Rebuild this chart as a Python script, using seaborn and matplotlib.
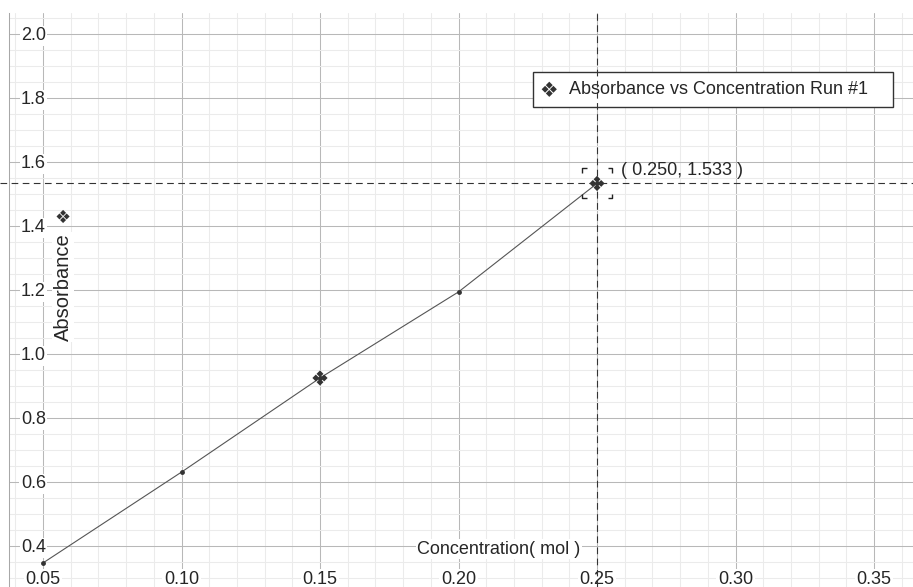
import numpy as np
import pandas as pd
import matplotlib
matplotlib.use("Agg")
import matplotlib.pyplot as plt
from matplotlib.path import Path
from matplotlib.ticker import MultipleLocator
import seaborn as sns

# data
conc = [0.05, 0.10, 0.15, 0.20, 0.25]
absorb = [0.347, 0.631, 0.925, 1.194, 1.533]
marked_conc = [0.15, 0.25]          # points drawn with the series symbol
cursor_x, cursor_y = 0.25, 1.533    # crosshair position
x_ticks = [0.05, 0.10, 0.15, 0.20, 0.25, 0.30, 0.35]
y_ticks = [0.4, 0.6, 0.8, 1.0, 1.2, 1.4, 1.6, 1.8, 2.0]
series_name = "Absorbance vs Concentration Run #1"
symbol = "\u2756"

df = pd.DataFrame({"Concentration": conc, "Absorbance": absorb})
marked = df[np.isin(np.round(df["Concentration"], 3), marked_conc)]

sns.set_style("white")
plt.rcParams["font.family"] = ["Liberation Sans", "DejaVu Sans"]
txt = "#262626"
fs = 13
white_box = dict(facecolor="white", edgecolor="none", pad=1)

W, H = 913, 587
fig = plt.figure(figsize=(W / 100, H / 100), dpi=100)
ax = fig.add_axes([9 / W, 0, 904 / W, 574 / H])

sns.lineplot(data=df, x="Concentration", y="Absorbance", ax=ax, color="#555555",
             lw=0.8, marker="o", markersize=3.5, markeredgewidth=0,
             markerfacecolor="#333333", zorder=4)
sns.scatterplot(data=marked, x="Concentration", y="Absorbance", ax=ax,
                marker=f"${symbol}$", s=120, color="#333333", edgecolor="none",
                label=series_name, zorder=5)

# 0.05 per 138.5 px on x, 0.2 per 64 px on y
ax.set_xlim(0.05 - 34 / 2770, 0.05 + 870 / 2770)
ax.set_ylim(0.4 - 41 / 320, 2.0 + 21 / 320)

ax.set_xticks(x_ticks)
ax.set_xticklabels([])
ax.set_yticks(y_ticks)
ax.set_yticklabels([f"{v:.1f}" for v in y_ticks])
ax.xaxis.set_minor_locator(MultipleLocator(0.01))
ax.yaxis.set_minor_locator(MultipleLocator(0.05))

ax.set_axisbelow(True)
ax.grid(which="major", color="#b8b8b8", lw=0.75)
ax.grid(which="minor", color="#ebebeb", lw=0.75)
ax.xaxis.set_zorder(0.5)
ax.yaxis.set_zorder(0.6)   # y labels sit on top of the vertical grid
for s in ["top", "right", "bottom"]:
    ax.spines[s].set_visible(False)
ax.spines["left"].set_color("#a8a8a8")
ax.spines["left"].set_linewidth(0.75)

ax.tick_params(axis="x", which="both", length=0)
ax.tick_params(axis="y", which="major", direction="in", length=8, width=0.75,
               color="#b8b8b8", pad=-26.6, labelsize=fs, labelcolor=txt)
ax.tick_params(axis="y", which="minor", direction="in", length=3.6, width=0.75,
               color="#a0a0a0")

# x tick labels sit inside the plot, over the grid
xt = ax.get_xaxis_transform()
for v in x_ticks:
    ax.text(v, (587 - 579) / 574, f"{v:.2f}", transform=xt, ha="center",
            va="center", fontsize=fs, color=txt, bbox=white_box, zorder=1)

# cursor bracket around the picked point
a = 0.3
verts, codes = [], []
for sx in (-1, 1):
    for sy in (-1, 1):
        verts += [(sx, sy * (1 - a)), (sx, sy), (sx * (1 - a), sy)]
        codes += [Path.MOVETO, Path.LINETO, Path.LINETO]
ax.plot([cursor_x], [cursor_y], marker=Path(verts, codes), ls="none",
        mfc="none", mec="#222222", mew=1.0, ms=21.6, zorder=6)

ax.axvline(cursor_x, color="#333333", lw=0.8, ls=(0, (6, 4)), zorder=7)
ax.axhline(cursor_y, xmin=-9 / 904, color="#333333", lw=0.8, ls=(0, (6, 4)),
           zorder=7, clip_on=False)
ax.annotate(f"( {cursor_x:.3f}, {cursor_y:.3f} )", xy=(cursor_x, cursor_y),
            xytext=(17, 9.4), textcoords="offset points", ha="left", va="center",
            fontsize=fs, color=txt)

ax.set_xlabel("")
ax.text((499 - 9) / 904, (587 - 549) / 574, "Concentration( mol )",
        transform=ax.transAxes, ha="center", va="center", fontsize=fs,
        color=txt, bbox=white_box, zorder=1)
ax.set_ylabel("Absorbance", fontsize=14.5, color=txt)
ax.yaxis.set_label_coords((63 - 9) / 904, (587 - 287) / 574)
ax.yaxis.label.set_va("center")
ax.yaxis.label.set_bbox(white_box)
ax.text((63 - 9) / 904, (587 - 218) / 574, symbol, transform=ax.transAxes,
        ha="center", va="center", fontsize=fs, color="#333333",
        family=["DejaVu Sans"])

leg = ax.legend(loc="upper left", bbox_to_anchor=(524 / 904, 1 - 59 / 574, 360 / 904, 0),
                mode="expand", borderaxespad=0, fontsize=fs, frameon=True,
                fancybox=False, framealpha=1, edgecolor="#333333",
                handlelength=0.8, handletextpad=0.7, borderpad=0.5)
leg.get_frame().set_linewidth(1.0)
leg.set_zorder(3)
for t in leg.get_texts():
    t.set_color(txt)

for lbl in ax.get_yticklabels():
    lbl.set_bbox(white_box)

fig.savefig("out.png", dpi=100)
